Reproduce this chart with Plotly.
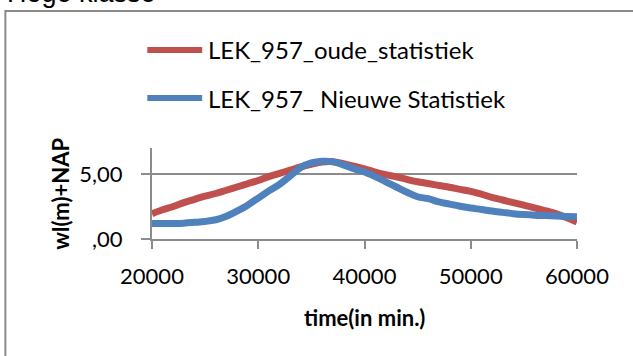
import plotly.graph_objects as go

# time axis (minutes) and water levels
time_min = [20000, 21000, 22000, 23000, 24000, 25000, 26000, 27000, 28000, 29000,
            30000, 31000, 32000, 33000, 34000, 35000, 36000, 37000, 38000, 39000,
            40000, 41000, 42000, 43000, 44000, 45000, 46000, 47000, 48000, 49000,
            50000, 51000, 52000, 53000, 54000, 55000, 56000, 57000, 58000, 59000,
            60000]

wl_oude = [1.95, 2.25, 2.50, 2.80, 3.05, 3.30, 3.50, 3.75, 4.00, 4.25,
           4.50, 4.80, 5.05, 5.30, 5.55, 5.75, 5.92, 5.95, 5.80, 5.60,
           5.40, 5.15, 4.95, 4.78, 4.58, 4.40, 4.27, 4.12, 3.98, 3.82,
           3.66, 3.45, 3.20, 3.00, 2.80, 2.60, 2.40, 2.18, 1.95, 1.65,
           1.30]

wl_nieuw = [1.20, 1.20, 1.20, 1.22, 1.28, 1.35, 1.48, 1.75, 2.15, 2.60,
            3.15, 3.70, 4.20, 4.85, 5.50, 5.85, 5.98, 5.95, 5.70, 5.40,
            5.15, 4.80, 4.40, 4.00, 3.60, 3.25, 3.10, 2.85, 2.68, 2.52,
            2.38, 2.27, 2.15, 2.05, 1.95, 1.88, 1.83, 1.80, 1.77, 1.74,
            1.72]

series_names = ["LEK_957_oude_statistiek", "LEK_957_ Nieuwe Statistiek"]
series_colors = ["#C0504D", "#4F81BD"]

y_ticks = [0, 5]
y_ticktext = [",00", "5,00"]
x_ticks = [20000, 30000, 40000, 50000, 60000]

FONT = "Lato"
AXIS_GREY = "#8C8C8C"

fig = go.Figure()
for name, ys, col in zip(series_names, [wl_oude, wl_nieuw], series_colors):
    fig.add_trace(go.Scatter(x=time_min, y=ys, mode="lines", name=name,
                             line=dict(color=col, width=7, shape="spline")))

# chart border (cut by the page edge on the right and bottom)
fig.add_shape(type="rect", xref="paper", yref="paper",
              x0=-0.345, x1=1.3, y0=-1.6, y1=2.505,
              line=dict(color="#8A8A8A", width=2), layer="below")

# hand-drawn legend, placed like the Excel one
legend_y = [2.077, 1.549]
for name, col, ly in zip(series_names, series_colors, legend_y):
    fig.add_shape(type="line", xref="paper", yref="paper",
                  x0=-0.011, x1=0.118, y0=ly, y1=ly,
                  line=dict(color=col, width=6))
    fig.add_annotation(x=0.128, y=ly, xref="paper", yref="paper",
                       xanchor="left", yanchor="middle", showarrow=False,
                       text=name, font=dict(family=FONT, size=24, color="black"))

# title, cut off at the top of the page
fig.add_annotation(x=-0.345, y=2.52, xref="paper", yref="paper",
                   xanchor="left", yanchor="bottom", showarrow=False,
                   text="Hoge klasse",
                   font=dict(family="Liberation Sans", size=27, color="black"))

# axis titles
fig.add_annotation(x=-0.216, y=0.5, xref="paper", yref="paper",
                   xanchor="center", yanchor="middle", showarrow=False,
                   textangle=-90, text="<b>wl(m)+NAP</b>",
                   font=dict(family=FONT, size=22, color="black"))
fig.add_annotation(x=0.5, y=-0.86, xref="paper", yref="paper",
                   xanchor="center", yanchor="middle", showarrow=False,
                   text="<b>time(in min.)</b>",
                   font=dict(family=FONT, size=22, color="black"))

fig.update_layout(
    width=633, height=356,
    margin=dict(l=152, r=56, t=148, b=117),
    paper_bgcolor="white", plot_bgcolor="white",
    showlegend=False,
    font=dict(family=FONT, size=22, color="black"),
    xaxis=dict(range=[20000, 60000], tickvals=x_ticks, ticktext=[str(v) for v in x_ticks],
               showgrid=False, zeroline=False, showline=True,
               linecolor=AXIS_GREY, linewidth=2,
               ticks="outside", ticklen=8, tickwidth=2, tickcolor=AXIS_GREY,
               ticklabelstandoff=9),
    yaxis=dict(range=[0, 7], tickvals=y_ticks, ticktext=y_ticktext,
               showgrid=True, gridcolor=AXIS_GREY, gridwidth=2,
               zeroline=False, showline=True,
               linecolor=AXIS_GREY, linewidth=2,
               ticks="outside", ticklen=9, tickwidth=2, tickcolor=AXIS_GREY,
               ticklabelstandoff=14),
)

# page body margin off so the chart sits at the window corner
fig.write_html("out.html", config={"displayModeBar": False},
               post_script="document.body.style.margin='0';")
